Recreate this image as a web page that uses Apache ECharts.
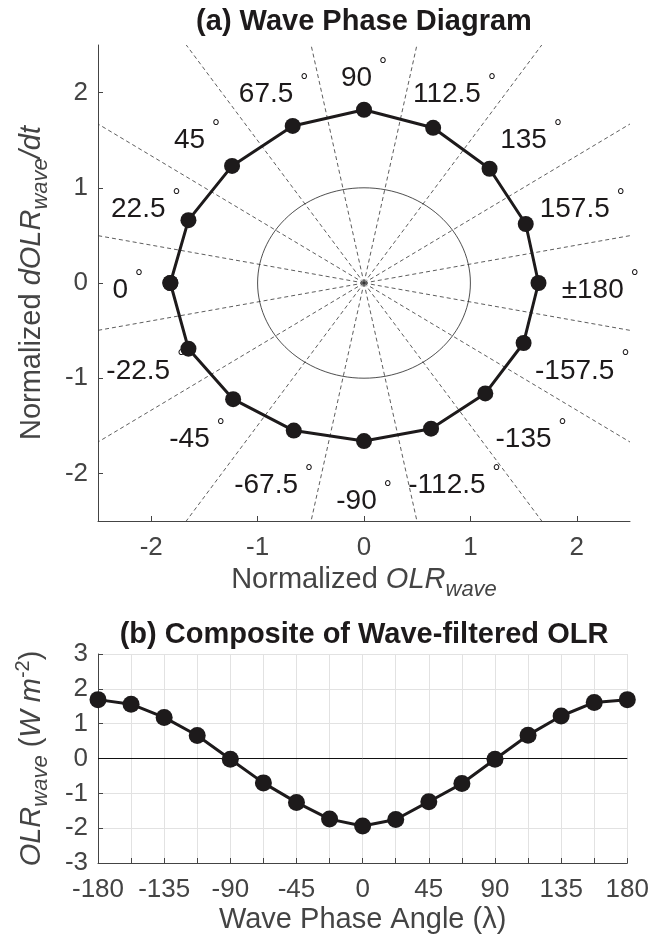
<!DOCTYPE html>
<html><head><meta charset="utf-8">
<script src="https://cdn.jsdelivr.net/npm/echarts@6/dist/echarts.min.js"></script>
<style>html,body{margin:0;padding:0;background:#fff}#c{width:652px;height:941px}</style>
</head><body><div id="c"></div>
<script>
const FONT = "'Liberation Sans', Arial, Helvetica, sans-serif";

// ---------- Panel (a): wave phase diagram ----------
const phaseAngles = [0, 22.5, 45, 67.5, 90, 112.5, 135, 157.5, 180, -157.5, -135, -112.5, -90, -67.5, -45, -22.5];
const phaseOLR  = [-1.82, -1.65, -1.24, -0.67, 0.00, 0.65, 1.18, 1.52, 1.64, 1.50, 1.14, 0.63, 0.00, -0.66, -1.23, -1.65];
const phaseDOLR = [0.00, 0.66, 1.23, 1.65, 1.82, 1.63, 1.20, 0.62, 0.00, -0.63, -1.16, -1.53, -1.66, -1.55, -1.22, -0.69];
const angleLabels = ['0', '22.5', '45', '67.5', '90', '112.5', '135', '157.5', '\u00b1180', '-157.5', '-135', '-112.5', '-90', '-67.5', '-45', '-22.5'];
const boundaryAngles = [11.25, 33.75, 56.25, 78.75, 101.25, 123.75, 146.25, 168.75, 191.25, 213.75, 236.25, 258.75, 281.25, 303.75, 326.25, 348.75];
const phaseTicks = [-2, -1, 0, 1, 2];

// ---------- Panel (b): composite of wave-filtered OLR ----------
const compAngles = [-180, -157.5, -135, -112.5, -90, -67.5, -45, -22.5, 0, 22.5, 45, 67.5, 90, 112.5, 135, 157.5, 180];
const compOLR = [1.69, 1.56, 1.18, 0.66, -0.02, -0.70, -1.26, -1.74, -1.94, -1.75, -1.24, -0.72, -0.02, 0.67, 1.22, 1.61, 1.69];
const compLabelTicks = [-180, -135, -90, -45, 0, 45, 90, 135, 180];

const AXIS_COLOR = '#444';
const INK = '#1d1a1b';
const TICK_FS = 26;

const measureCtx = document.createElement('canvas').getContext('2d');
function textWidth(t, font) { measureCtx.font = font; return measureCtx.measureText(t).width; }

const richName = {
  r: { fontSize: 29, fontFamily: FONT, color: AXIS_COLOR },
  i: { fontSize: 29, fontFamily: FONT, color: AXIS_COLOR, fontStyle: 'italic' },
  s: { fontSize: 22, fontFamily: FONT, color: AXIS_COLOR, fontStyle: 'italic', padding: [18, 0, 0, 0] },
  p: { fontSize: 20, fontFamily: FONT, color: AXIS_COLOR, padding: [0, 0, 18, 0] }
};

const chart = echarts.init(document.getElementById('c'), null, { renderer: 'canvas' });

const polygonData = phaseOLR.map((x, i) => [x, phaseDOLR[i]]);
polygonData.push([phaseOLR[0], phaseDOLR[0]]);

const option = {
  animation: false,
  backgroundColor: '#fff',
  title: [
    { text: '(a) Wave Phase Diagram', left: 359, textAlign: 'center', top: 2,
      textStyle: { fontSize: 29, fontWeight: 'bold', fontFamily: FONT, color: INK } },
    { text: '(b) Composite of Wave-filtered OLR', left: 359, textAlign: 'center', top: 615,
      textStyle: { fontSize: 29, fontWeight: 'bold', fontFamily: FONT, color: INK } }
  ],
  grid: [
    { left: 98, top: 45, width: 532, height: 476 },
    { left: 98, top: 654, width: 532, height: 209 }
  ],
  xAxis: [
    { gridIndex: 0, type: 'value', min: -2.5, max: 2.5,
      axisLine: { show: true, onZero: false, lineStyle: { color: AXIS_COLOR, width: 1 } },
      axisTick: { show: true, inside: true, length: 5, customValues: phaseTicks, lineStyle: { color: AXIS_COLOR } },
      axisLabel: { customValues: phaseTicks, fontSize: TICK_FS, fontFamily: FONT, color: AXIS_COLOR, margin: 14 },
      splitLine: { show: false },
      name: '{r|Normalized }{i|OLR}{s|wave}', nameLocation: 'middle', nameGap: 38,
      nameTextStyle: { rich: richName } },
    { gridIndex: 1, type: 'value', min: -180, max: 180, interval: 22.5,
      axisLine: { show: true, onZero: false, lineStyle: { color: AXIS_COLOR, width: 1 } },
      axisTick: { show: true, inside: true, length: 5, lineStyle: { color: AXIS_COLOR } },
      axisLabel: { customValues: compLabelTicks, fontSize: TICK_FS, fontFamily: FONT, color: AXIS_COLOR, margin: 14 },
      splitLine: { show: true, lineStyle: { color: '#e2e2e2', width: 1 } },
      name: 'Wave Phase Angle (\u03bb)', nameLocation: 'middle', nameGap: 42,
      nameTextStyle: { fontSize: 29, fontFamily: FONT, color: AXIS_COLOR } }
  ],
  yAxis: [
    { gridIndex: 0, type: 'value', min: -2.5, max: 2.5,
      axisLine: { show: true, onZero: false, lineStyle: { color: AXIS_COLOR, width: 1 } },
      axisTick: { show: true, inside: true, length: 5, customValues: phaseTicks, lineStyle: { color: AXIS_COLOR } },
      axisLabel: { customValues: phaseTicks, fontSize: TICK_FS, fontFamily: FONT, color: AXIS_COLOR, margin: 10 },
      splitLine: { show: false },
      name: '{r|Normalized }{i|dOLR}{s|wave}{i|/dt}', nameLocation: 'middle', nameGap: 46,
      nameTextStyle: { rich: richName } },
    { gridIndex: 1, type: 'value', min: -3, max: 3, interval: 1,
      axisLine: { show: true, onZero: false, lineStyle: { color: AXIS_COLOR, width: 1 } },
      axisTick: { show: true, inside: true, length: 5, lineStyle: { color: AXIS_COLOR } },
      axisLabel: { fontSize: TICK_FS, fontFamily: FONT, color: AXIS_COLOR, margin: 10 },
      splitLine: { show: true, lineStyle: { color: '#e2e2e2', width: 1 } },
      name: '{i|OLR}{s|wave}{r| (}{i|W m}{p|-2}{r|)}', nameLocation: 'middle', nameGap: 46,
      nameTextStyle: { rich: richName } }
  ],
  series: [
    { // phase boundary rays
      type: 'custom', xAxisIndex: 0, yAxisIndex: 0, silent: true, z: 1,
      data: boundaryAngles.map(a => [a, 0]),
      renderItem: function (params, api) {
        const a = api.value(0) * Math.PI / 180;
        const dx = -Math.cos(a), dy = Math.sin(a);
        const t = Math.min(2.5 / Math.max(Math.abs(dx), 1e-9), 2.5 / Math.max(Math.abs(dy), 1e-9));
        const p0 = api.coord([0, 0]);
        const p1 = api.coord([dx * t, dy * t]);
        return { type: 'line', shape: { x1: p0[0], y1: p0[1], x2: p1[0], y2: p1[1] },
          style: { stroke: '#333', lineWidth: 0.8, lineDash: [4, 3] } };
      }
    },
    { // unit circle
      type: 'custom', xAxisIndex: 0, yAxisIndex: 0, silent: true, z: 1,
      data: [[0, 0]],
      renderItem: function (params, api) {
        const pts = [];
        for (let d = 0; d <= 360; d += 3) {
          const r = d * Math.PI / 180;
          pts.push(api.coord([Math.cos(r), Math.sin(r)]));
        }
        return { type: 'polyline', shape: { points: pts }, style: { stroke: '#222', lineWidth: 0.8, fill: null } };
      }
    },
    { // angle labels
      type: 'custom', xAxisIndex: 0, yAxisIndex: 0, silent: true, z: 3,
      data: phaseAngles.map((a, i) => [a, i]),
      renderItem: function (params, api) {
        const a = api.value(0) * Math.PI / 180;
        const label = angleLabels[params.dataIndex];
        const pos = api.coord([-2.22 * Math.cos(a), 2.22 * Math.sin(a)]);
        const numFont = '28px ' + FONT;
        const degFont = '20px ' + FONT;
        const wNum = textWidth(label, numFont);
        const wDeg = textWidth('\u00b0', degFont);
        const gap = 7;
        const total = wNum + gap + wDeg;
        const left = pos[0] - total / 2;
        const ny = pos[1] + 7;
        return { type: 'group', children: [
          { type: 'text', x: left, y: ny, style: { text: label, font: numFont, fill: INK, align: 'left', verticalAlign: 'middle' } },
          { type: 'text', x: left + wNum + gap, y: ny - 12, style: { text: '\u00b0', font: degFont, fill: INK, align: 'left', verticalAlign: 'middle' } }
        ] };
      }
    },
    { // phase composite polygon
      type: 'line', xAxisIndex: 0, yAxisIndex: 0, z: 4,
      data: polygonData,
      symbol: 'circle', symbolSize: 16, showAllSymbol: true,
      lineStyle: { color: INK, width: 3 },
      itemStyle: { color: INK },
      silent: true
    },
    { // composite OLR vs phase
      type: 'line', xAxisIndex: 1, yAxisIndex: 1, z: 4,
      data: compAngles.map((a, i) => [a, compOLR[i]]),
      symbol: 'circle', symbolSize: 17, showAllSymbol: true,
      lineStyle: { color: INK, width: 3 },
      itemStyle: { color: INK },
      silent: true,
      markLine: { silent: true, symbol: 'none', label: { show: false },
        lineStyle: { color: '#111', width: 1, type: 'solid' },
        data: [{ yAxis: 0 }], z: 2 }
    }
  ]
};
chart.setOption(option);
</script>
</body></html>
